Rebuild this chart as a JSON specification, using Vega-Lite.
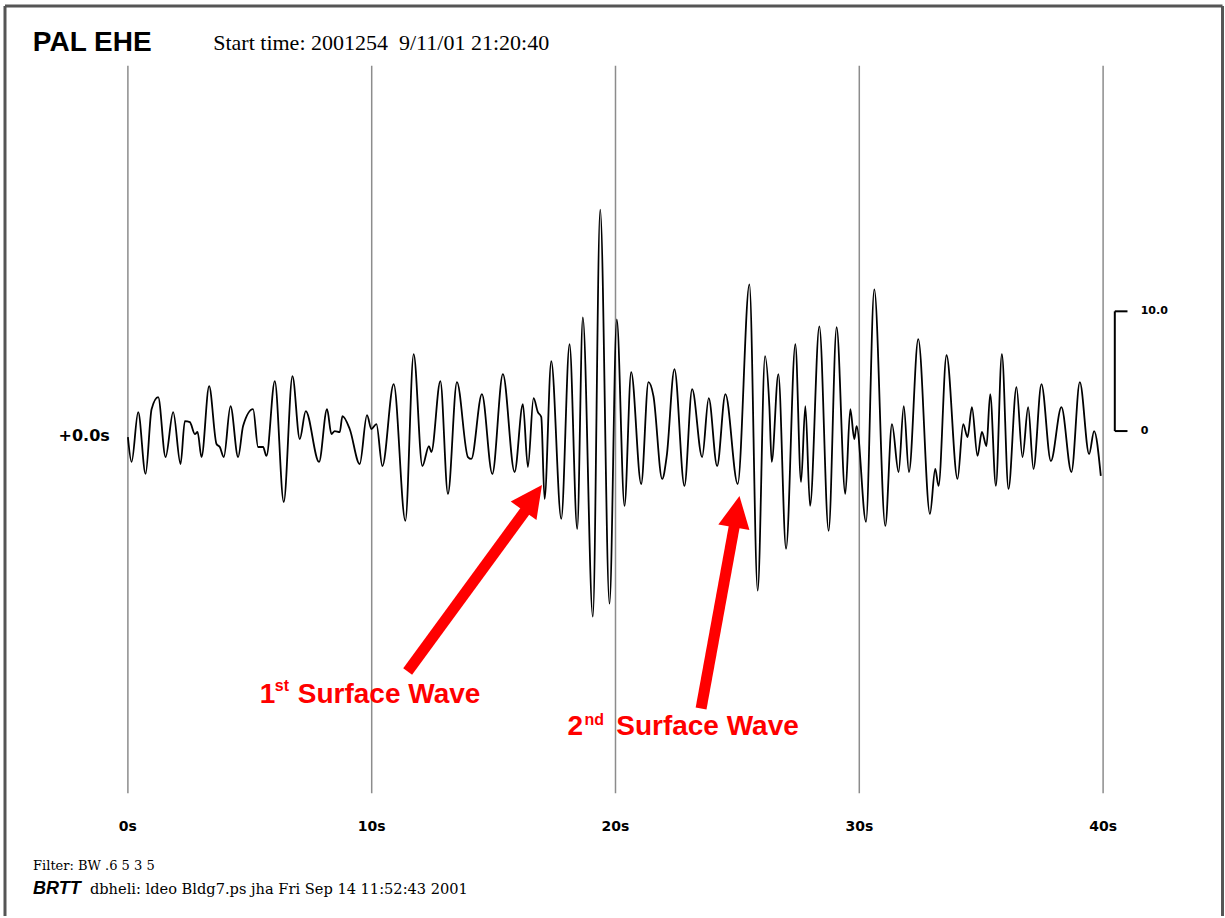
{
  "$schema": "https://vega.github.io/schema/vega-lite/v6.json",
  "width": 1225,
  "height": 918,
  "autosize": {"type": "fit", "contains": "padding"},
  "padding": 0,
  "background": "white",
  "config": {"view": {"stroke": null}},
  "datasets": {
    "wave": [
      {"t":0,"a":-0.5},{"t":0.152,"a":-2.58},{"t":0.422,"a":1.58},{"t":0.725,"a":-3.58},{"t":0.971,"a":1.83},{"t":1.242,"a":2.83},{"t":1.545,"a":-2.17},{"t":1.857,"a":1.58},{"t":2.16,"a":-2.75},{"t":2.336,"a":0.83},{"t":2.541,"a":0.75},{"t":2.746,"a":-0.25},{"t":2.857,"a":-0.08},{"t":3.02,"a":-2.17},{"t":3.332,"a":3.75},{"t":3.635,"a":-1.08},{"t":3.77,"a":-1.33},{"t":3.934,"a":-2.17},{"t":4.209,"a":2.08},{"t":4.52,"a":-2.17},{"t":4.725,"a":0.42},{"t":5.135,"a":1.83},{"t":5.34,"a":-1.33},{"t":5.545,"a":-1.33},{"t":5.684,"a":-2.08},{"t":6.025,"a":4.17},{"t":6.393,"a":-5.92},{"t":6.75,"a":4.58},{"t":7.049,"a":-0.67},{"t":7.295,"a":1.67},{"t":7.84,"a":-2.58},{"t":8.168,"a":1.83},{"t":8.348,"a":-0.25},{"t":8.484,"a":0},{"t":8.689,"a":-0.08},{"t":8.799,"a":1.25},{"t":9.098,"a":0.17},{"t":9.508,"a":-2.75},{"t":9.807,"a":1.33},{"t":9.988,"a":0.17},{"t":10.193,"a":0.58},{"t":10.439,"a":-2.92},{"t":10.902,"a":3.92},{"t":11.381,"a":-7.5},{"t":11.721,"a":6.42},{"t":12.078,"a":-2.92},{"t":12.348,"a":-1.25},{"t":12.447,"a":-1.75},{"t":12.816,"a":4.17},{"t":13.127,"a":-5.25},{"t":13.496,"a":4.08},{"t":13.947,"a":-2.17},{"t":14.086,"a":-2.33},{"t":14.52,"a":3.08},{"t":14.947,"a":-3.58},{"t":15.381,"a":4.75},{"t":15.861,"a":-3.42},{"t":16.201,"a":2.25},{"t":16.406,"a":-3.0},{"t":16.639,"a":2.75},{"t":16.816,"a":1.58},{"t":16.955,"a":1.17},{"t":17.09,"a":-5.67},{"t":17.365,"a":5.83},{"t":17.775,"a":-7.33},{"t":18.115,"a":7.25},{"t":18.43,"a":-8.17},{"t":18.66,"a":9.5},{"t":19.07,"a":-15.5},{"t":19.373,"a":18.5},{"t":19.754,"a":-14.42},{"t":20.053,"a":9.33},{"t":20.369,"a":-6.25},{"t":20.643,"a":4.92},{"t":21.053,"a":-4.42},{"t":21.352,"a":4.08},{"t":21.557,"a":2.92},{"t":21.914,"a":-4.0},{"t":22.102,"a":-2.08},{"t":22.418,"a":5.17},{"t":22.828,"a":-4.58},{"t":23.143,"a":3.5},{"t":23.553,"a":-2.17},{"t":23.824,"a":2.75},{"t":24.168,"a":-2.92},{"t":24.508,"a":3.08},{"t":25.012,"a":-4.42},{"t":25.492,"a":12.25},{"t":25.832,"a":-13.33},{"t":26.135,"a":6.25},{"t":26.311,"a":2.08},{"t":26.406,"a":-2.58},{"t":26.68,"a":4.75},{"t":26.996,"a":-9.83},{"t":27.377,"a":7.25},{"t":27.611,"a":-4.25},{"t":27.787,"a":2.08},{"t":27.98,"a":-6.25},{"t":28.361,"a":8.75},{"t":28.742,"a":-8.33},{"t":29.07,"a":8.67},{"t":29.426,"a":-5.25},{"t":29.631,"a":1.83},{"t":29.795,"a":-0.67},{"t":29.889,"a":0.42},{"t":30.275,"a":-7.58},{"t":30.615,"a":11.83},{"t":31.066,"a":-7.92},{"t":31.34,"a":0.58},{"t":31.611,"a":-3.42},{"t":31.824,"a":2.08},{"t":32.037,"a":-3.42},{"t":32.418,"a":7.67},{"t":32.898,"a":-6.92},{"t":33.115,"a":-3.17},{"t":33.25,"a":-4.58},{"t":33.578,"a":6.33},{"t":34.029,"a":-4.0},{"t":34.262,"a":0.58},{"t":34.439,"a":-0.5},{"t":34.619,"a":2.0},{"t":34.848,"a":-2.08},{"t":35.029,"a":-0.08},{"t":35.217,"a":-1.25},{"t":35.369,"a":3.08},{"t":35.602,"a":-4.58},{"t":35.848,"a":6.42},{"t":36.119,"a":-4.83},{"t":36.447,"a":3.67},{"t":36.693,"a":-2.17},{"t":36.926,"a":2.0},{"t":37.143,"a":-3.17},{"t":37.471,"a":3.92},{"t":37.857,"a":-2.5},{"t":38.291,"a":2.0},{"t":38.701,"a":-3.42},{"t":39.045,"a":4.08},{"t":39.426,"a":-1.92},{"t":39.631,"a":0},{"t":39.906,"a":-3.75}
    ],
    "grid": [{"t":0,"label":"0s"},{"t":10,"label":"10s"},{"t":20,"label":"20s"},{"t":30,"label":"30s"},{"t":40,"label":"40s"}],
    "frame": [
      {"x1":-5.041,"y1":35.5,"x2":44.898,"y2":35.5},
      {"x1":-5.041,"y1":35.5,"x2":-5.041,"y2":-40.5},
      {"x1":44.898,"y1":35.5,"x2":44.898,"y2":-40.5}
    ],
    "scalebar": [
      {"x1":40.48,"y1":0,"x2":40.48,"y2":10},
      {"x1":40.48,"y1":10,"x2":41.0,"y2":10},
      {"x1":40.48,"y1":0,"x2":41.0,"y2":0}
    ],
    "arrows": [
      {"x1":11.475,"y1":-20.08,"x2":16.5,"y2":-6.1},
      {"x1":23.51,"y1":-23.17,"x2":24.93,"y2":-7.3}
    ]
  },
  "layer": [
    {
      "data": {"name": "frame"},
      "mark": {"type": "rule", "color": "#555555", "strokeWidth": 3},
      "encoding": {
        "x": {"field": "x1", "type": "quantitative", "scale": {"domain": [-5.246, 44.959], "nice": false, "zero": false}, "axis": null},
        "y": {"field": "y1", "type": "quantitative", "scale": {"domain": [-40.5, 36], "nice": false, "zero": false}, "axis": null},
        "x2": {"field": "x2"},
        "y2": {"field": "y2"}
      }
    },
    {
      "data": {"name": "grid"},
      "mark": {"type": "rule", "color": "#8c8c8c", "strokeWidth": 1.5},
      "encoding": {
        "x": {"field": "t", "type": "quantitative"},
        "y": {"datum": 30.5, "type": "quantitative"},
        "y2": {"datum": -30.25}
      }
    },
    {
      "data": {"name": "grid"},
      "mark": {"type": "text", "font": "DejaVu Sans", "fontWeight": "bold", "fontSize": 14, "align": "center", "baseline": "middle", "color": "#000000"},
      "encoding": {
        "x": {"field": "t", "type": "quantitative"},
        "y": {"datum": -33.1, "type": "quantitative"},
        "text": {"field": "label"}
      }
    },
    {
      "data": {"name": "wave"},
      "mark": {"type": "line", "color": "#000000", "strokeWidth": 1.8, "interpolate": "monotone"},
      "encoding": {
        "x": {"field": "t", "type": "quantitative"},
        "y": {"field": "a", "type": "quantitative"}
      }
    },
    {
      "data": {"name": "scalebar"},
      "mark": {"type": "rule", "color": "#000000", "strokeWidth": 2},
      "encoding": {
        "x": {"field": "x1", "type": "quantitative"},
        "y": {"field": "y1", "type": "quantitative"},
        "x2": {"field": "x2"},
        "y2": {"field": "y2"}
      }
    },
    {
      "data": {"values": [{"label": "10.0", "t": 41.54, "a": 10}, {"label": "0", "t": 41.54, "a": 0}]},
      "mark": {"type": "text", "font": "DejaVu Sans", "fontWeight": "bold", "fontSize": 11, "align": "left", "baseline": "middle", "color": "#000000"},
      "encoding": {
        "x": {"field": "t", "type": "quantitative"},
        "y": {"field": "a", "type": "quantitative"},
        "text": {"field": "label"}
      }
    },
    {
      "data": {"values": [{"label": "+0.0s", "t": -0.74, "a": -0.42}]},
      "mark": {"type": "text", "font": "DejaVu Sans", "fontWeight": "bold", "fontSize": 16, "align": "right", "baseline": "middle", "color": "#000000"},
      "encoding": {
        "x": {"field": "t", "type": "quantitative"},
        "y": {"field": "a", "type": "quantitative"},
        "text": {"field": "label"}
      }
    },
    {
      "data": {"values": [{"label": "PAL EHE", "t": -3.9, "a": 31.7}]},
      "mark": {"type": "text", "font": "Liberation Sans", "fontWeight": "bold", "fontSize": 28, "align": "left", "baseline": "alphabetic", "color": "#000000"},
      "encoding": {
        "x": {"field": "t", "type": "quantitative"},
        "y": {"field": "a", "type": "quantitative"},
        "text": {"field": "label"}
      }
    },
    {
      "data": {"values": [{"label": "Start time: 2001254\u00a0 9/11/01 21:20:40", "t": 3.5, "a": 31.8}]},
      "mark": {"type": "text", "font": "Liberation Serif", "fontSize": 22, "align": "left", "baseline": "alphabetic", "color": "#000000"},
      "encoding": {
        "x": {"field": "t", "type": "quantitative"},
        "y": {"field": "a", "type": "quantitative"},
        "text": {"field": "label"}
      }
    },
    {
      "data": {"values": [{"label": "Filter: BW .6 5 3 5", "t": -3.89, "a": -36.66}]},
      "mark": {"type": "text", "font": "DejaVu Serif", "fontSize": 13, "align": "left", "baseline": "alphabetic", "color": "#000000"},
      "encoding": {
        "x": {"field": "t", "type": "quantitative"},
        "y": {"field": "a", "type": "quantitative"},
        "text": {"field": "label"}
      }
    },
    {
      "data": {"values": [{"label": "dbheli: ldeo Bldg7.ps jha Fri Sep 14 11:52:43 2001", "t": -1.557, "a": -38.66}]},
      "mark": {"type": "text", "font": "DejaVu Serif", "fontSize": 14.6, "align": "left", "baseline": "alphabetic", "color": "#000000"},
      "encoding": {
        "x": {"field": "t", "type": "quantitative"},
        "y": {"field": "a", "type": "quantitative"},
        "text": {"field": "label"}
      }
    },
    {
      "data": {"values": [{"label": "BRTT", "t": -3.89, "a": -38.66}]},
      "mark": {"type": "text", "font": "Liberation Sans", "fontWeight": "bold", "fontStyle": "italic", "fontSize": 18, "align": "left", "baseline": "alphabetic", "color": "#000000"},
      "encoding": {
        "x": {"field": "t", "type": "quantitative"},
        "y": {"field": "a", "type": "quantitative"},
        "text": {"field": "label"}
      }
    },
    {
      "data": {"name": "arrows"},
      "mark": {"type": "rule", "color": "#ff0000", "strokeWidth": 11, "strokeCap": "butt"},
      "encoding": {
        "x": {"field": "x1", "type": "quantitative"},
        "y": {"field": "y1", "type": "quantitative"},
        "x2": {"field": "x2"},
        "y2": {"field": "y2"}
      }
    },
    {
      "data": {"values": [{"t": 16.607, "a": -5.58}]},
      "mark": {"type": "point", "shape": "M0,-1L1,1L-1,1Z", "size": 1000, "filled": true, "color": "#ff0000", "opacity": 1, "angle": 35.5},
      "encoding": {
        "x": {"field": "t", "type": "quantitative"},
        "y": {"field": "a", "type": "quantitative"}
      }
    },
    {
      "data": {"values": [{"t": 24.971, "a": -6.73}]},
      "mark": {"type": "point", "shape": "M0,-1L1,1L-1,1Z", "size": 1000, "filled": true, "color": "#ff0000", "opacity": 1, "angle": 10.2},
      "encoding": {
        "x": {"field": "t", "type": "quantitative"},
        "y": {"field": "a", "type": "quantitative"}
      }
    },
    {
      "data": {"values": [{"label": "1", "t": 5.41, "a": -22.75}, {"label": "Surface Wave", "t": 6.967, "a": -22.75}, {"label": "2", "t": 18.03, "a": -25.42}, {"label": "Surface Wave", "t": 20.03, "a": -25.42}]},
      "mark": {"type": "text", "font": "Liberation Sans", "fontWeight": "bold", "fontSize": 28, "align": "left", "baseline": "alphabetic", "color": "#ff0000"},
      "encoding": {
        "x": {"field": "t", "type": "quantitative"},
        "y": {"field": "a", "type": "quantitative"},
        "text": {"field": "label"}
      }
    },
    {
      "data": {"values": [{"label": "st", "t": 6.025, "a": -21.75}, {"label": "nd", "t": 18.73, "a": -24.58}]},
      "mark": {"type": "text", "font": "Liberation Sans", "fontWeight": "bold", "fontSize": 16, "align": "left", "baseline": "alphabetic", "color": "#ff0000"},
      "encoding": {
        "x": {"field": "t", "type": "quantitative"},
        "y": {"field": "a", "type": "quantitative"},
        "text": {"field": "label"}
      }
    }
  ]
}
